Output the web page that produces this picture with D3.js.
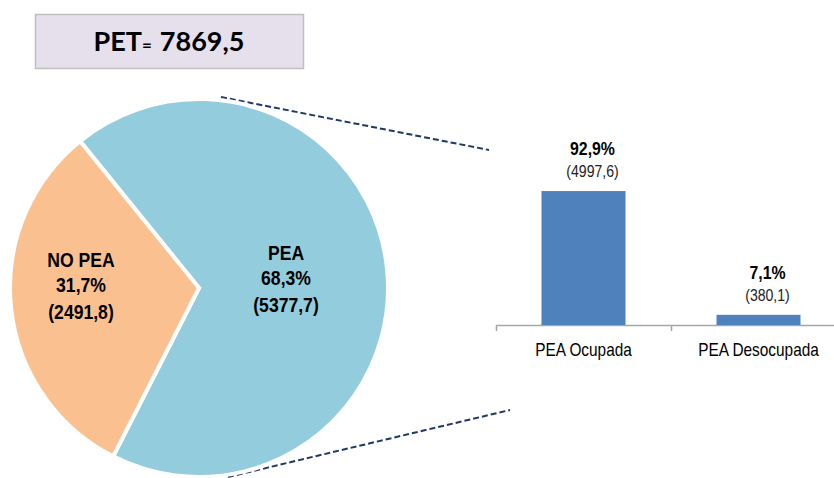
<!DOCTYPE html>
<html>
<head>
<meta charset="utf-8">
<script src="https://cdn.jsdelivr.net/npm/d3@7"></script>
<style>
  body { margin: 0; background: #fff; }
  svg { display: block; }
  .narrow { font-family: "Liberation Sans Narrow", "Arial Narrow", "Liberation Sans", Arial, sans-serif; }
</style>
</head>
<body>
<svg width="834" height="478"></svg>
<script>
//	data
var petTotal = "7869,5";
var pieLabels = ["PEA", "NO PEA"];
var pieValues = [5377.7, 2491.8];
var piePct = ["68,3%", "31,7%"];
var pieText = ["(5377,7)", "(2491,8)"];
var barLabels = ["PEA Ocupada", "PEA Desocupada"];
var barValues = [4997.6, 380.1];
var barPct = ["92,9%", "7,1%"];
var barText = ["(4997,6)", "(380,1)"];

//	the narrow font is missing, so squeeze the regular one
var squeeze = 0.88;
function at(px, py) { return "translate(" + px + "," + py + ") scale(" + squeeze + ",1)"; }

var svg = d3.select("svg");

//	title box
svg.append("rect")
	.attr("x", 35.5).attr("y", 14.5)
	.attr("width", 268).attr("height", 54)
	.attr("fill", "#e5e0ec")
	.attr("stroke", "#bfbfbf").attr("stroke-width", 1.5);
var title = svg.append("text")
	.attr("x", 169).attr("y", 51)
	.attr("text-anchor", "middle")
	.attr("font-family", "Lato, 'Open Sans', sans-serif")
	.attr("font-weight", "bold")
	.attr("fill", "#000");
title.append("tspan").attr("font-size", 27).text("PET");
title.append("tspan").attr("font-size", 17).text("=");
title.append("tspan").attr("font-size", 27).attr("dx", 8).text(petTotal);

//	connector dashes
var dash = svg.append("g")
	.attr("stroke", "#1f3864").attr("stroke-width", 2)
	.attr("stroke-dasharray", "6,3").attr("fill", "none");
dash.append("line").attr("x1", 221).attr("y1", 97).attr("x2", 489).attr("y2", 150);
dash.append("line").attr("x1", 228).attr("y1", 477).attr("x2", 510).attr("y2", 410);

//	pie
var cx = 199, cy = 288, r = 189;
var pieColors = ["#93cddd", "#fac090"];
var start = -39 * Math.PI / 180;
var pie = d3.pie().sort(null)
	.startAngle(start).endAngle(start + 2 * Math.PI);
var arc = d3.arc().innerRadius(0).outerRadius(r);
var arcs = pie(pieValues);

var gp = svg.append("g").attr("transform", "translate(" + cx + "," + cy + ")");
gp.selectAll("path")
	.data(arcs)
	.enter().append("path")
	.attr("d", arc)
	.attr("fill", function(d, i) { return pieColors[i]; })
	.attr("stroke", "#fff")
	.attr("stroke-width", 4)
	.attr("stroke-linejoin", "miter");

//	pie labels, placed at chosen spots in each slice
var pieLabelPos = [[87, -28], [-118, -21]];
var pl = gp.selectAll("text.pl")
	.data(arcs)
	.enter().append("text")
	.attr("class", "pl narrow")
	.attr("text-anchor", "middle")
	.attr("font-size", 20)
	.attr("font-weight", "bold")
	.attr("fill", "#000")
	.attr("transform", function(d, i) { return at(pieLabelPos[i][0], pieLabelPos[i][1]); });
pl.append("tspan").attr("x", 0).attr("dy", 0).text(function(d, i) { return pieLabels[i]; });
pl.append("tspan").attr("x", 0).attr("dy", 25.5).text(function(d, i) { return piePct[i]; });
pl.append("tspan").attr("x", 0).attr("dy", 27).text(function(d, i) { return pieText[i]; });

//	bar chart
var base = 325;
var x = d3.scaleBand().domain(barLabels).range([496, 846]).paddingInner(0.52).paddingOuter(0.26);
var y = d3.scaleLinear().domain([0, 5000]).range([base, 191]);

var axis = svg.append("g").attr("transform", "translate(0," + base + ")");
axis.append("line")
	.attr("x1", 496).attr("x2", 846).attr("y1", 0.5).attr("y2", 0.5)
	.attr("stroke", "#a6a6a6").attr("stroke-width", 1.5);
var tickXs = [496, 496 + x.step(), 496 + 2 * x.step()];
axis.selectAll("line.tick")
	.data(tickXs)
	.enter().append("line")
	.attr("class", "tick")
	.attr("x1", function(d) { return d + 0.5; }).attr("x2", function(d) { return d + 0.5; })
	.attr("y1", 0).attr("y2", 6)
	.attr("stroke", "#a6a6a6").attr("stroke-width", 1.5);

var bw = 84;
svg.selectAll("rect.bar")
	.data(barValues)
	.enter().append("rect")
	.attr("class", "bar")
	.attr("x", function(d, i) { return x(barLabels[i]) + x.bandwidth() / 2 - bw / 2; })
	.attr("y", function(d) { return y(d); })
	.attr("width", bw)
	.attr("height", function(d) { return base - y(d); })
	.attr("fill", "#4f81bd");

svg.selectAll("text.bpct")
	.data(barValues)
	.enter().append("text")
	.attr("class", "bpct narrow")
	.attr("transform", function(d, i) { return at(x(barLabels[i]) + x.bandwidth() / 2 + 9, y(d) - 36); })
	.attr("text-anchor", "middle")
	.attr("font-size", 18).attr("font-weight", "bold")
	.text(function(d, i) { return barPct[i]; });
svg.selectAll("text.bval")
	.data(barValues)
	.enter().append("text")
	.attr("class", "bval narrow")
	.attr("transform", function(d, i) { return at(x(barLabels[i]) + x.bandwidth() / 2 + 9, y(d) - 14); })
	.attr("text-anchor", "middle")
	.attr("font-size", 16).attr("fill", "#222")
	.text(function(d, i) { return barText[i]; });

svg.selectAll("text.cat")
	.data(barLabels)
	.enter().append("text")
	.attr("class", "cat narrow")
	.attr("transform", function(d) { return at(x(d) + x.bandwidth() / 2, 356); })
	.attr("text-anchor", "middle")
	.attr("font-size", 17.5).attr("fill", "#000")
	.text(function(d) { return d; });
</script>
</body>
</html>
